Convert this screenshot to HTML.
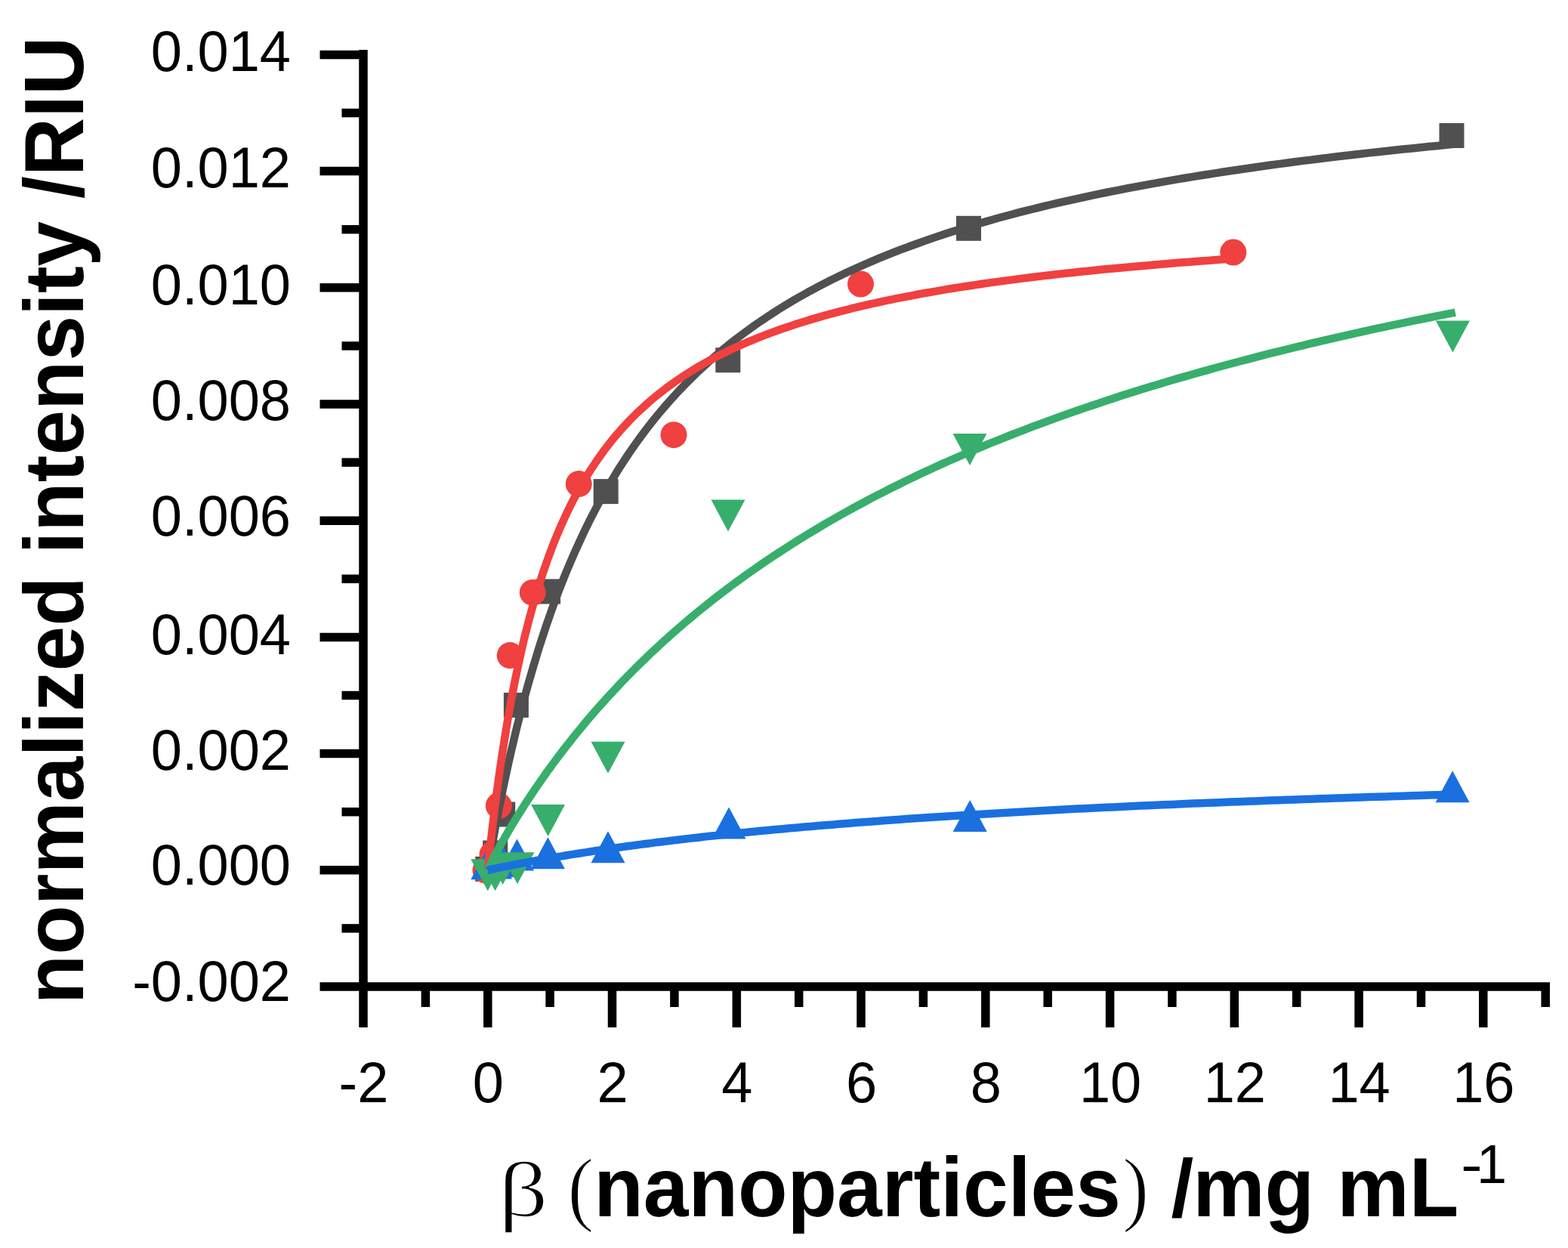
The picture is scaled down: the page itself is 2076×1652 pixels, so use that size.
<!DOCTYPE html>
<html><head><meta charset="utf-8"><title>normalized intensity vs nanoparticle concentration</title><style>
html,body{margin:0;padding:0;background:#fff;}
svg{display:block;}
.tl{font-family:"Liberation Sans",Arial,sans-serif;font-size:74px;fill:#000;}
.b{font-family:"Liberation Sans",Arial,sans-serif;font-weight:bold;fill:#000;}
.rg{font-family:"Liberation Sans",Arial,sans-serif;font-weight:normal;fill:#000;}
.sf{font-family:"Liberation Serif","Times New Roman",serif;font-weight:normal;fill:#000;stroke:#fff;stroke-width:1.8px;}
</style></head><body>
<svg width="2076" height="1652" viewBox="0 0 2076 1652">
<rect width="2076" height="1652" fill="#fff"/>
<g fill="#505050"><rect x="1905.5" y="163.0" width="33" height="33"/><rect x="1266.0" y="285.8" width="33" height="33"/><rect x="947.3" y="460.2" width="33" height="33"/><rect x="785.7" y="634.1" width="33" height="33"/><rect x="709.1" y="766.5" width="33" height="33"/><rect x="666.9" y="916.9" width="33" height="33"/><rect x="649.2" y="1061.5" width="33" height="33"/><rect x="639.2" y="1112.5" width="33" height="33"/><rect x="629.3" y="1133.8" width="33" height="33"/></g>
<g fill="#f04040"><circle cx="1632.8" cy="334.0" r="17.5"/><circle cx="1139.5" cy="376.0" r="17.5"/><circle cx="892.0" cy="575.7" r="17.5"/><circle cx="766.3" cy="640.6" r="17.5"/><circle cx="705.3" cy="784.4" r="17.5"/><circle cx="675.2" cy="867.6" r="17.5"/><circle cx="660.3" cy="1066.5" r="17.5"/><circle cx="652.0" cy="1131.0" r="17.5"/><circle cx="643.0" cy="1152.0" r="17.5"/></g>
<g fill="#1a70df"><path d="M1900.6,1062.3 L1945.6,1062.3 L1923.1,1020.3Z"/><path d="M1261.7,1101.1 L1306.7,1101.1 L1284.2,1059.1Z"/><path d="M942.5,1110.6 L987.5,1110.6 L965.0,1068.6Z"/><path d="M782.5,1142.2 L827.5,1142.2 L805.0,1100.2Z"/><path d="M702.9,1150.2 L747.9,1150.2 L725.4,1108.2Z"/><path d="M662.0,1152.6 L707.0,1152.6 L684.5,1110.6Z"/><path d="M643.2,1161.0 L688.2,1161.0 L665.7,1119.0Z"/><path d="M633.1,1163.4 L678.1,1163.4 L655.6,1121.4Z"/><path d="M623.3,1164.3 L668.3,1164.3 L645.8,1122.3Z"/></g>
<g fill="#38ae6c"><path d="M1900.9,424.6 L1945.9,424.6 L1923.4,466.6Z"/><path d="M1261.5,574.0 L1306.5,574.0 L1284.0,616.0Z"/><path d="M941.5,661.5 L986.5,661.5 L964.0,703.5Z"/><path d="M782.5,981.8 L827.5,981.8 L805.0,1023.8Z"/><path d="M703.1,1065.0 L748.1,1065.0 L725.6,1107.0Z"/><path d="M662.5,1128.3 L707.5,1128.3 L685.0,1170.3Z"/><path d="M643.2,1129.0 L688.2,1129.0 L665.7,1171.0Z"/><path d="M633.1,1137.2 L678.1,1137.2 L655.6,1179.2Z"/><path d="M623.3,1137.2 L668.3,1137.2 L645.8,1179.2Z"/></g>
<g fill="none" stroke-width="10.5" stroke-linejoin="round" stroke-linecap="butt">
<path d="M645.8,1151.8 L645.8,1151.6 L645.9,1151.2 L646.0,1150.4 L646.2,1149.3 L646.4,1147.9 L646.7,1146.1 L647.1,1144.1 L647.5,1141.8 L647.9,1139.1 L648.4,1136.2 L649.0,1133.0 L649.6,1129.5 L650.3,1125.7 L651.0,1121.7 L651.8,1117.4 L652.6,1112.8 L653.5,1108.0 L654.4,1102.9 L655.4,1097.6 L656.4,1092.0 L657.5,1086.3 L658.7,1080.3 L659.9,1074.1 L661.1,1067.7 L662.5,1061.2 L663.8,1054.4 L665.2,1047.5 L666.7,1040.5 L668.2,1033.2 L669.8,1025.9 L671.4,1018.4 L673.1,1010.7 L674.8,1003.0 L676.6,995.1 L678.5,987.2 L680.4,979.1 L682.3,971.0 L684.3,962.8 L686.4,954.5 L688.5,946.2 L690.7,937.8 L692.9,929.4 L695.1,920.9 L697.5,912.4 L699.8,903.9 L702.3,895.4 L704.8,886.8 L707.3,878.2 L709.9,869.7 L712.5,861.1 L715.2,852.6 L718.0,844.0 L720.8,835.5 L723.6,827.0 L726.6,818.5 L729.5,810.1 L732.5,801.7 L735.6,793.4 L738.7,785.0 L741.9,776.8 L745.1,768.6 L748.4,760.4 L751.8,752.3 L755.2,744.2 L758.6,736.3 L762.1,728.3 L765.7,720.5 L769.3,712.7 L772.9,704.9 L776.6,697.3 L780.4,689.7 L784.2,682.2 L788.1,674.7 L792.0,667.4 L796.0,660.1 L800.0,652.8 L804.1,645.7 L808.3,638.6 L812.5,631.7 L816.7,624.8 L821.0,617.9 L825.4,611.2 L829.8,604.5 L834.2,597.9 L838.7,591.4 L843.3,585.0 L847.9,578.6 L852.6,572.3 L857.3,566.1 L862.1,560.0 L866.9,554.0 L871.8,548.0 L876.8,542.1 L881.8,536.3 L886.8,530.6 L891.9,524.9 L897.1,519.3 L902.3,513.8 L907.5,508.4 L912.9,503.0 L918.2,497.7 L923.6,492.5 L929.1,487.4 L934.6,482.3 L940.2,477.3 L945.9,472.3 L951.6,467.5 L957.3,462.6 L963.1,457.9 L968.9,453.2 L974.8,448.6 L980.8,444.1 L986.8,439.6 L992.9,435.2 L999.0,430.8 L1005.2,426.5 L1011.4,422.3 L1017.7,418.1 L1024.0,414.0 L1030.4,409.9 L1036.8,405.9 L1043.3,402.0 L1049.8,398.1 L1056.4,394.3 L1063.1,390.5 L1069.8,386.7 L1076.6,383.1 L1083.4,379.4 L1090.2,375.9 L1097.1,372.3 L1104.1,368.9 L1111.1,365.4 L1118.2,362.1 L1125.4,358.7 L1132.5,355.4 L1139.8,352.2 L1147.1,349.0 L1154.4,345.9 L1161.8,342.7 L1169.3,339.7 L1176.8,336.7 L1184.3,333.7 L1191.9,330.7 L1199.6,327.8 L1207.3,325.0 L1215.1,322.2 L1222.9,319.4 L1230.8,316.6 L1238.7,313.9 L1246.7,311.3 L1254.8,308.6 L1262.9,306.0 L1271.0,303.5 L1279.2,301.0 L1287.5,298.5 L1295.8,296.0 L1304.1,293.6 L1312.5,291.2 L1321.0,288.8 L1329.5,286.5 L1338.1,284.2 L1346.7,281.9 L1355.4,279.7 L1364.1,277.5 L1372.9,275.3 L1381.8,273.2 L1390.7,271.0 L1399.6,268.9 L1408.6,266.9 L1417.7,264.8 L1426.8,262.8 L1435.9,260.8 L1445.1,258.9 L1454.4,256.9 L1463.7,255.0 L1473.1,253.1 L1482.5,251.3 L1492.0,249.4 L1501.6,247.6 L1511.1,245.8 L1520.8,244.1 L1530.5,242.3 L1540.2,240.6 L1550.0,238.9 L1559.9,237.2 L1569.8,235.5 L1579.8,233.9 L1589.8,232.3 L1599.8,230.7 L1610.0,229.1 L1620.1,227.5 L1630.4,226.0 L1640.7,224.5 L1651.0,223.0 L1661.4,221.5 L1671.8,220.0 L1682.3,218.5 L1692.9,217.1 L1703.5,215.7 L1714.1,214.3 L1724.8,212.9 L1735.6,211.6 L1746.4,210.2 L1757.3,208.9 L1768.2,207.5 L1779.2,206.2 L1790.2,205.0 L1801.3,203.7 L1812.5,202.4 L1823.6,201.2 L1834.9,200.0 L1846.2,198.7 L1857.5,197.5 L1868.9,196.4 L1880.4,195.2 L1891.9,194.0 L1903.5,192.9 L1915.1,191.8 L1926.8,190.6" stroke="#505050"/>
<path d="M645.8,1151.8 L645.8,1151.6 L645.8,1151.0 L645.9,1150.0 L646.1,1148.6 L646.3,1146.8 L646.5,1144.7 L646.8,1142.1 L647.1,1139.2 L647.4,1135.9 L647.8,1132.2 L648.3,1128.3 L648.7,1123.9 L649.2,1119.3 L649.8,1114.3 L650.4,1109.0 L651.0,1103.4 L651.7,1097.6 L652.4,1091.4 L653.2,1085.1 L654.0,1078.5 L654.8,1071.6 L655.7,1064.6 L656.7,1057.3 L657.6,1049.9 L658.6,1042.3 L659.7,1034.6 L660.8,1026.7 L661.9,1018.6 L663.1,1010.5 L664.3,1002.3 L665.6,994.0 L666.9,985.6 L668.2,977.1 L669.6,968.6 L671.0,960.0 L672.5,951.4 L674.0,942.8 L675.5,934.2 L677.1,925.5 L678.7,916.9 L680.4,908.3 L682.1,899.7 L683.9,891.1 L685.7,882.6 L687.5,874.1 L689.4,865.7 L691.3,857.3 L693.2,848.9 L695.2,840.7 L697.3,832.5 L699.4,824.4 L701.5,816.3 L703.7,808.3 L705.9,800.5 L708.1,792.7 L710.4,785.0 L712.7,777.3 L715.1,769.8 L717.5,762.4 L720.0,755.0 L722.5,747.8 L725.0,740.6 L727.6,733.6 L730.2,726.7 L732.8,719.8 L735.5,713.1 L738.3,706.4 L741.1,699.9 L743.9,693.4 L746.8,687.1 L749.7,680.8 L752.6,674.7 L755.6,668.6 L758.6,662.7 L761.7,656.8 L764.8,651.1 L768.0,645.4 L771.2,639.8 L774.4,634.3 L777.7,629.0 L781.0,623.7 L784.4,618.5 L787.8,613.3 L791.2,608.3 L794.7,603.4 L798.2,598.5 L801.8,593.7 L805.4,589.0 L809.0,584.4 L812.7,579.9 L816.4,575.5 L820.2,571.1 L824.0,566.8 L827.9,562.6 L831.8,558.4 L835.7,554.4 L839.7,550.4 L843.7,546.4 L847.8,542.6 L851.9,538.8 L856.0,535.1 L860.2,531.4 L864.4,527.8 L868.7,524.3 L873.0,520.8 L877.4,517.4 L881.7,514.0 L886.2,510.7 L890.6,507.5 L895.2,504.3 L899.7,501.2 L904.3,498.1 L909.0,495.1 L913.6,492.2 L918.4,489.3 L923.1,486.4 L927.9,483.6 L932.8,480.8 L937.6,478.1 L942.6,475.4 L947.5,472.8 L952.5,470.2 L957.6,467.7 L962.7,465.2 L967.8,462.7 L973.0,460.3 L978.2,457.9 L983.5,455.6 L988.8,453.3 L994.1,451.1 L999.5,448.9 L1004.9,446.7 L1010.4,444.5 L1015.9,442.4 L1021.4,440.3 L1027.0,438.3 L1032.6,436.3 L1038.3,434.3 L1044.0,432.4 L1049.8,430.5 L1055.5,428.6 L1061.4,426.7 L1067.2,424.9 L1073.2,423.1 L1079.1,421.4 L1085.1,419.6 L1091.2,417.9 L1097.2,416.2 L1103.4,414.6 L1109.5,412.9 L1115.7,411.3 L1122.0,409.8 L1128.3,408.2 L1134.6,406.7 L1141.0,405.2 L1147.4,403.7 L1153.8,402.2 L1160.3,400.8 L1166.8,399.3 L1173.4,397.9 L1180.0,396.6 L1186.7,395.2 L1193.4,393.9 L1200.1,392.6 L1206.9,391.3 L1213.7,390.0 L1220.6,388.7 L1227.5,387.5 L1234.5,386.3 L1241.4,385.1 L1248.5,383.9 L1255.5,382.7 L1262.6,381.5 L1269.8,380.4 L1277.0,379.3 L1284.2,378.2 L1291.5,377.1 L1298.8,376.0 L1306.2,374.9 L1313.6,373.9 L1321.0,372.9 L1328.5,371.9 L1336.0,370.9 L1343.6,369.9 L1351.2,368.9 L1358.8,367.9 L1366.5,367.0 L1374.3,366.0 L1382.0,365.1 L1389.8,364.2 L1397.7,363.3 L1405.6,362.4 L1413.5,361.5 L1421.5,360.7 L1429.5,359.8 L1437.6,359.0 L1445.7,358.2 L1453.8,357.3 L1462.0,356.5 L1470.2,355.7 L1478.5,355.0 L1486.8,354.2 L1495.1,353.4 L1503.5,352.7 L1512.0,351.9 L1520.4,351.2 L1529.0,350.4 L1537.5,349.7 L1546.1,349.0 L1554.7,348.3 L1563.4,347.6 L1572.1,346.9 L1580.9,346.3 L1589.7,345.6 L1598.5,344.9 L1607.4,344.3 L1616.3,343.6 L1625.3,343.0 L1634.3,342.4" stroke="#f04040"/>
<path d="M645.8,1151.8 L645.8,1151.7 L645.9,1151.5 L646.0,1151.2 L646.2,1150.8 L646.4,1150.2 L646.7,1149.6 L647.1,1148.8 L647.5,1147.9 L647.9,1147.0 L648.4,1145.9 L649.0,1144.8 L649.6,1143.5 L650.3,1142.2 L651.0,1140.7 L651.8,1139.2 L652.6,1137.6 L653.5,1135.8 L654.4,1134.0 L655.4,1132.1 L656.4,1130.2 L657.5,1128.1 L658.7,1126.0 L659.9,1123.8 L661.1,1121.5 L662.5,1119.1 L663.8,1116.6 L665.2,1114.1 L666.7,1111.5 L668.2,1108.8 L669.8,1106.1 L671.4,1103.3 L673.1,1100.4 L674.8,1097.4 L676.6,1094.4 L678.5,1091.3 L680.4,1088.2 L682.3,1085.0 L684.3,1081.8 L686.4,1078.4 L688.5,1075.1 L690.7,1071.6 L692.9,1068.2 L695.1,1064.6 L697.5,1061.0 L699.8,1057.4 L702.3,1053.7 L704.8,1050.0 L707.3,1046.2 L709.9,1042.4 L712.5,1038.6 L715.2,1034.7 L718.0,1030.7 L720.8,1026.8 L723.6,1022.7 L726.6,1018.7 L729.5,1014.6 L732.5,1010.5 L735.6,1006.4 L738.7,1002.2 L741.9,998.0 L745.1,993.8 L748.4,989.5 L751.8,985.2 L755.2,980.9 L758.6,976.6 L762.1,972.2 L765.7,967.9 L769.3,963.5 L772.9,959.1 L776.6,954.7 L780.4,950.2 L784.2,945.8 L788.1,941.3 L792.0,936.8 L796.0,932.4 L800.0,927.9 L804.1,923.3 L808.3,918.8 L812.5,914.3 L816.7,909.8 L821.0,905.2 L825.4,900.7 L829.8,896.2 L834.2,891.6 L838.7,887.1 L843.3,882.5 L847.9,878.0 L852.6,873.4 L857.3,868.9 L862.1,864.3 L866.9,859.8 L871.8,855.3 L876.8,850.7 L881.8,846.2 L886.8,841.7 L891.9,837.1 L897.1,832.6 L902.3,828.1 L907.5,823.6 L912.9,819.1 L918.2,814.7 L923.6,810.2 L929.1,805.7 L934.6,801.3 L940.2,796.9 L945.9,792.4 L951.6,788.0 L957.3,783.6 L963.1,779.2 L968.9,774.9 L974.8,770.5 L980.8,766.2 L986.8,761.8 L992.9,757.5 L999.0,753.2 L1005.2,748.9 L1011.4,744.7 L1017.7,740.4 L1024.0,736.2 L1030.4,732.0 L1036.8,727.8 L1043.3,723.6 L1049.8,719.4 L1056.4,715.3 L1063.1,711.1 L1069.8,707.0 L1076.6,702.9 L1083.4,698.9 L1090.2,694.8 L1097.1,690.8 L1104.1,686.8 L1111.1,682.8 L1118.2,678.8 L1125.4,674.9 L1132.5,670.9 L1139.8,667.0 L1147.1,663.1 L1154.4,659.2 L1161.8,655.4 L1169.3,651.6 L1176.8,647.7 L1184.3,644.0 L1191.9,640.2 L1199.6,636.4 L1207.3,632.7 L1215.1,629.0 L1222.9,625.3 L1230.8,621.7 L1238.7,618.0 L1246.7,614.4 L1254.8,610.8 L1262.9,607.2 L1271.0,603.7 L1279.2,600.1 L1287.5,596.6 L1295.8,593.1 L1304.1,589.6 L1312.5,586.2 L1321.0,582.8 L1329.5,579.4 L1338.1,576.0 L1346.7,572.6 L1355.4,569.3 L1364.1,565.9 L1372.9,562.6 L1381.8,559.4 L1390.7,556.1 L1399.6,552.9 L1408.6,549.6 L1417.7,546.4 L1426.8,543.3 L1435.9,540.1 L1445.1,537.0 L1454.4,533.9 L1463.7,530.8 L1473.1,527.7 L1482.5,524.6 L1492.0,521.6 L1501.6,518.6 L1511.1,515.6 L1520.8,512.6 L1530.5,509.7 L1540.2,506.7 L1550.0,503.8 L1559.9,500.9 L1569.8,498.1 L1579.8,495.2 L1589.8,492.4 L1599.8,489.6 L1610.0,486.8 L1620.1,484.0 L1630.4,481.2 L1640.7,478.5 L1651.0,475.8 L1661.4,473.1 L1671.8,470.4 L1682.3,467.7 L1692.9,465.1 L1703.5,462.5 L1714.1,459.8 L1724.8,457.3 L1735.6,454.7 L1746.4,452.1 L1757.3,449.6 L1768.2,447.1 L1779.2,444.6 L1790.2,442.1 L1801.3,439.6 L1812.5,437.2 L1823.6,434.7 L1834.9,432.3 L1846.2,429.9 L1857.5,427.6 L1868.9,425.2 L1880.4,422.8 L1891.9,420.5 L1903.5,418.2 L1915.1,415.9 L1926.8,413.6" stroke="#38ae6c"/>
<path d="M645.8,1151.8 L645.8,1151.8 L645.9,1151.8 L646.0,1151.7 L646.2,1151.7 L646.4,1151.7 L646.7,1151.6 L647.1,1151.5 L647.5,1151.4 L647.9,1151.3 L648.4,1151.2 L649.0,1151.1 L649.6,1151.0 L650.3,1150.8 L651.0,1150.7 L651.8,1150.5 L652.6,1150.4 L653.5,1150.2 L654.4,1150.0 L655.4,1149.8 L656.4,1149.6 L657.5,1149.3 L658.7,1149.1 L659.9,1148.8 L661.1,1148.6 L662.5,1148.3 L663.8,1148.0 L665.2,1147.7 L666.7,1147.5 L668.2,1147.1 L669.8,1146.8 L671.4,1146.5 L673.1,1146.2 L674.8,1145.8 L676.6,1145.5 L678.5,1145.1 L680.4,1144.7 L682.3,1144.4 L684.3,1144.0 L686.4,1143.6 L688.5,1143.2 L690.7,1142.8 L692.9,1142.3 L695.1,1141.9 L697.5,1141.5 L699.8,1141.0 L702.3,1140.6 L704.8,1140.1 L707.3,1139.7 L709.9,1139.2 L712.5,1138.7 L715.2,1138.2 L718.0,1137.7 L720.8,1137.3 L723.6,1136.8 L726.6,1136.2 L729.5,1135.7 L732.5,1135.2 L735.6,1134.7 L738.7,1134.2 L741.9,1133.6 L745.1,1133.1 L748.4,1132.5 L751.8,1132.0 L755.2,1131.4 L758.6,1130.9 L762.1,1130.3 L765.7,1129.8 L769.3,1129.2 L772.9,1128.6 L776.6,1128.1 L780.4,1127.5 L784.2,1126.9 L788.1,1126.3 L792.0,1125.7 L796.0,1125.1 L800.0,1124.5 L804.1,1123.9 L808.3,1123.3 L812.5,1122.7 L816.7,1122.1 L821.0,1121.5 L825.4,1120.9 L829.8,1120.3 L834.2,1119.7 L838.7,1119.1 L843.3,1118.5 L847.9,1117.9 L852.6,1117.3 L857.3,1116.7 L862.1,1116.1 L866.9,1115.4 L871.8,1114.8 L876.8,1114.2 L881.8,1113.6 L886.8,1113.0 L891.9,1112.4 L897.1,1111.7 L902.3,1111.1 L907.5,1110.5 L912.9,1109.9 L918.2,1109.3 L923.6,1108.7 L929.1,1108.0 L934.6,1107.4 L940.2,1106.8 L945.9,1106.2 L951.6,1105.6 L957.3,1105.0 L963.1,1104.4 L968.9,1103.8 L974.8,1103.2 L980.8,1102.5 L986.8,1101.9 L992.9,1101.3 L999.0,1100.7 L1005.2,1100.1 L1011.4,1099.5 L1017.7,1098.9 L1024.0,1098.3 L1030.4,1097.8 L1036.8,1097.2 L1043.3,1096.6 L1049.8,1096.0 L1056.4,1095.4 L1063.1,1094.8 L1069.8,1094.2 L1076.6,1093.7 L1083.4,1093.1 L1090.2,1092.5 L1097.1,1091.9 L1104.1,1091.4 L1111.1,1090.8 L1118.2,1090.2 L1125.4,1089.7 L1132.5,1089.1 L1139.8,1088.5 L1147.1,1088.0 L1154.4,1087.4 L1161.8,1086.9 L1169.3,1086.3 L1176.8,1085.8 L1184.3,1085.2 L1191.9,1084.7 L1199.6,1084.1 L1207.3,1083.6 L1215.1,1083.1 L1222.9,1082.5 L1230.8,1082.0 L1238.7,1081.5 L1246.7,1081.0 L1254.8,1080.5 L1262.9,1079.9 L1271.0,1079.4 L1279.2,1078.9 L1287.5,1078.4 L1295.8,1077.9 L1304.1,1077.4 L1312.5,1076.9 L1321.0,1076.4 L1329.5,1075.9 L1338.1,1075.4 L1346.7,1074.9 L1355.4,1074.4 L1364.1,1074.0 L1372.9,1073.5 L1381.8,1073.0 L1390.7,1072.5 L1399.6,1072.0 L1408.6,1071.6 L1417.7,1071.1 L1426.8,1070.6 L1435.9,1070.2 L1445.1,1069.7 L1454.4,1069.3 L1463.7,1068.8 L1473.1,1068.4 L1482.5,1067.9 L1492.0,1067.5 L1501.6,1067.0 L1511.1,1066.6 L1520.8,1066.2 L1530.5,1065.7 L1540.2,1065.3 L1550.0,1064.9 L1559.9,1064.5 L1569.8,1064.0 L1579.8,1063.6 L1589.8,1063.2 L1599.8,1062.8 L1610.0,1062.4 L1620.1,1062.0 L1630.4,1061.6 L1640.7,1061.2 L1651.0,1060.8 L1661.4,1060.4 L1671.8,1060.0 L1682.3,1059.6 L1692.9,1059.2 L1703.5,1058.8 L1714.1,1058.4 L1724.8,1058.0 L1735.6,1057.7 L1746.4,1057.3 L1757.3,1056.9 L1768.2,1056.5 L1779.2,1056.2 L1790.2,1055.8 L1801.3,1055.5 L1812.5,1055.1 L1823.6,1054.7 L1834.9,1054.4 L1846.2,1054.0 L1857.5,1053.7 L1868.9,1053.3 L1880.4,1053.0 L1891.9,1052.6 L1903.5,1052.3 L1915.1,1052.0 L1926.8,1051.6" stroke="#1a70df"/>
</g>
<g stroke="#000" stroke-width="11.5" fill="none">
<line x1="481" y1="66" x2="481" y2="1360"/>
<line x1="423.5" y1="1306" x2="2052" y2="1306"/>
<line x1="452.5" y1="1228.9" x2="481.0" y2="1228.9"/><line x1="423.5" y1="1151.8" x2="481.0" y2="1151.8"/><line x1="452.5" y1="1074.7" x2="481.0" y2="1074.7"/><line x1="423.5" y1="997.6" x2="481.0" y2="997.6"/><line x1="452.5" y1="920.5" x2="481.0" y2="920.5"/><line x1="423.5" y1="843.4" x2="481.0" y2="843.4"/><line x1="452.5" y1="766.3" x2="481.0" y2="766.3"/><line x1="423.5" y1="689.2" x2="481.0" y2="689.2"/><line x1="452.5" y1="612.1" x2="481.0" y2="612.1"/><line x1="423.5" y1="535.0" x2="481.0" y2="535.0"/><line x1="452.5" y1="457.9" x2="481.0" y2="457.9"/><line x1="423.5" y1="380.8" x2="481.0" y2="380.8"/><line x1="452.5" y1="303.7" x2="481.0" y2="303.7"/><line x1="423.5" y1="226.6" x2="481.0" y2="226.6"/><line x1="452.5" y1="149.5" x2="481.0" y2="149.5"/><line x1="423.5" y1="72.4" x2="481.0" y2="72.4"/><line x1="563.4" y1="1306.0" x2="563.4" y2="1333"/><line x1="645.8" y1="1306.0" x2="645.8" y2="1360"/><line x1="728.1" y1="1306.0" x2="728.1" y2="1333"/><line x1="810.5" y1="1306.0" x2="810.5" y2="1360"/><line x1="892.9" y1="1306.0" x2="892.9" y2="1333"/><line x1="975.3" y1="1306.0" x2="975.3" y2="1360"/><line x1="1057.7" y1="1306.0" x2="1057.7" y2="1333"/><line x1="1140.0" y1="1306.0" x2="1140.0" y2="1360"/><line x1="1222.4" y1="1306.0" x2="1222.4" y2="1333"/><line x1="1304.8" y1="1306.0" x2="1304.8" y2="1360"/><line x1="1387.2" y1="1306.0" x2="1387.2" y2="1333"/><line x1="1469.6" y1="1306.0" x2="1469.6" y2="1360"/><line x1="1551.9" y1="1306.0" x2="1551.9" y2="1333"/><line x1="1634.3" y1="1306.0" x2="1634.3" y2="1360"/><line x1="1716.7" y1="1306.0" x2="1716.7" y2="1333"/><line x1="1799.1" y1="1306.0" x2="1799.1" y2="1360"/><line x1="1881.5" y1="1306.0" x2="1881.5" y2="1333"/><line x1="1963.8" y1="1306.0" x2="1963.8" y2="1360"/><line x1="2046.2" y1="1306.0" x2="2046.2" y2="1333"/>
</g>
<g class="tl"><text transform="translate(385,1325.4) scale(1,1.03)" text-anchor="end">-0.002</text><text transform="translate(385,1171.3) scale(1,1.03)" text-anchor="end">0.000</text><text transform="translate(385,1019.4) scale(1,1.03)" text-anchor="end">0.002</text><text transform="translate(385,865.8) scale(1,1.03)" text-anchor="end">0.004</text><text transform="translate(385,709.4) scale(1,1.03)" text-anchor="end">0.006</text><text transform="translate(385,556.3) scale(1,1.03)" text-anchor="end">0.008</text><text transform="translate(385,403.1) scale(1,1.03)" text-anchor="end">0.010</text><text transform="translate(385,247.9) scale(1,1.03)" text-anchor="end">0.012</text><text transform="translate(385,94.2) scale(1,1.03)" text-anchor="end">0.014</text><text transform="translate(481.5,1458.5) scale(1,1.03)" text-anchor="middle">-2</text><text transform="translate(646.3,1458.5) scale(1,1.03)" text-anchor="middle">0</text><text transform="translate(811.0,1458.5) scale(1,1.03)" text-anchor="middle">2</text><text transform="translate(975.8,1458.5) scale(1,1.03)" text-anchor="middle">4</text><text transform="translate(1140.5,1458.5) scale(1,1.03)" text-anchor="middle">6</text><text transform="translate(1305.3,1458.5) scale(1,1.03)" text-anchor="middle">8</text><text transform="translate(1470.1,1458.5) scale(1,1.03)" text-anchor="middle">10</text><text transform="translate(1634.8,1458.5) scale(1,1.03)" text-anchor="middle">12</text><text transform="translate(1799.6,1458.5) scale(1,1.03)" text-anchor="middle">14</text><text transform="translate(1964.3,1458.5) scale(1,1.03)" text-anchor="middle">16</text></g>
<text class="b" font-size="107.2" transform="translate(110.3,1329.2) rotate(-90) scale(1,1.04)">normalized intensity /RIU</text>
<text class="sf" font-size="106" transform="translate(659.7,1609.5) scale(1.224,0.971)">β</text><text class="sf" font-size="106" transform="translate(751.2,1609) scale(1,1.037)">(</text><text class="b" font-size="107.3" transform="translate(786.3,1610) scale(1,1.04)">nanoparticles</text><text class="sf" font-size="106" transform="translate(1486,1609) scale(1,1.037)">)</text><text class="b" font-size="107.3" transform="translate(1550.5,1609.5) scale(1,1.0)">/</text><text class="b" font-size="107.3" transform="translate(1579.2,1610) scale(1,1.04)">mg</text><text class="b" font-size="107.3" transform="translate(1770.3,1610) scale(1,1.04)">mL</text><text class="rg" font-size="72" transform="translate(1934,1565.5) scale(1.2,1.0)">-</text><text class="rg" font-size="72" transform="translate(1955,1565.5) scale(1,1.0)">1</text>
</svg>
</body></html>
